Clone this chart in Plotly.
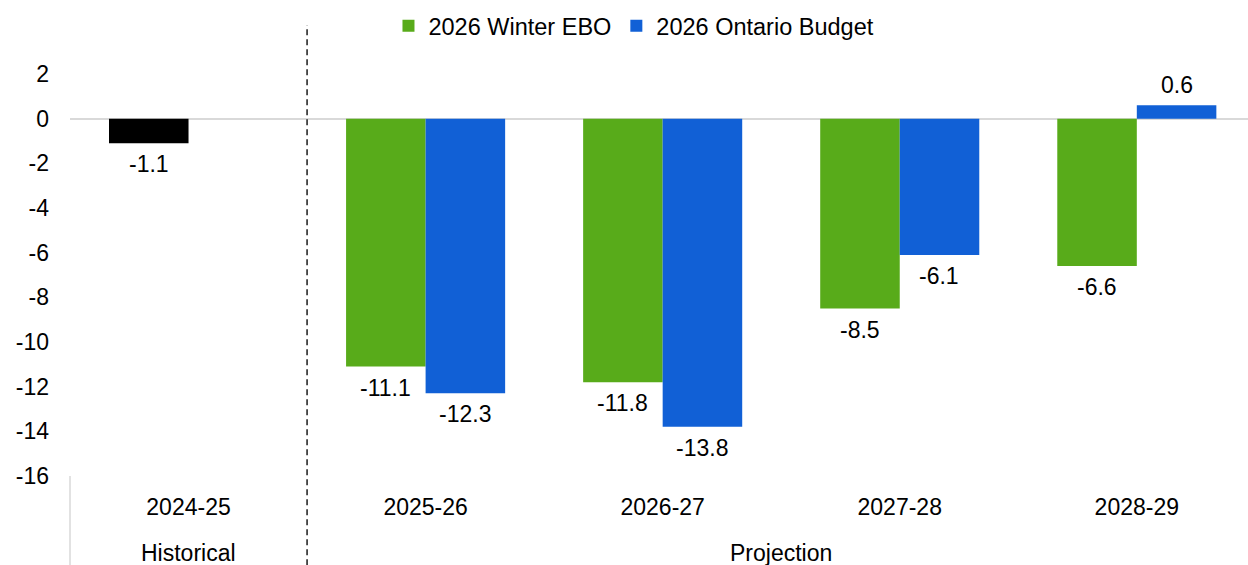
import plotly.graph_objects as go

# Fiscal years on the category axis
years = ["2024-25", "2025-26", "2026-27", "2027-28", "2028-29"]

# Budget balance, $ billions
historical_years = ["2024-25"]
historical_vals = [-1.1]

proj_years = ["2025-26", "2026-27", "2027-28", "2028-29"]
winter_ebo = [-11.1, -11.8, -8.5, -6.6]
ontario_budget = [-12.3, -13.8, -6.1, 0.6]

y_ticks = [2, 0, -2, -4, -6, -8, -10, -12, -14, -16]

FONT = "Liberation Sans, Arial, sans-serif"
GREEN = "#58AB1A"
BLUE = "#1160D6"
HALF_BAR_PX = 39.75  # half of one bar's pixel width, used to centre value labels

fig = go.Figure()

fig.add_trace(go.Bar(
    x=historical_years, y=historical_vals, name="Historical",
    marker=dict(color="#000000", line=dict(width=0)),
    offsetgroup="ebo", showlegend=False,
))
fig.add_trace(go.Bar(
    x=proj_years, y=winter_ebo, name="2026 Winter EBO",
    marker=dict(color=GREEN, line=dict(width=0)),
    offsetgroup="ebo",
))
fig.add_trace(go.Bar(
    x=proj_years, y=ontario_budget, name="2026 Ontario Budget",
    marker=dict(color=BLUE, line=dict(width=0)),
    offsetgroup="budget",
))


def value_label(xcat, val, shift):
    above = val >= 0
    fig.add_annotation(
        x=xcat, y=val, xref="x", yref="y", text=f"{val:.1f}",
        showarrow=False, xanchor="center",
        yanchor="bottom" if above else "top",
        xshift=shift, yshift=5 if above else -6,
        font=dict(family=FONT, size=23, color="#000000"),
    )


for xc, v in zip(historical_years, historical_vals):
    value_label(xc, v, -HALF_BAR_PX)
for xc, v in zip(proj_years, winter_ebo):
    value_label(xc, v, -HALF_BAR_PX)
for xc, v in zip(proj_years, ontario_budget):
    value_label(xc, v, HALF_BAR_PX)

# Gridline-free value axis with a light zero line
fig.update_yaxes(
    range=[-16, 2], tickvals=y_ticks, ticktext=[str(v) for v in y_ticks],
    showgrid=False, showline=False, ticks="",
    zeroline=True, zerolinecolor="#D9D9D9", zerolinewidth=1.5,
    tickfont=dict(family=FONT, size=23, color="#000000"),
    ticklabelstandoff=20,
)
fig.update_xaxes(
    type="category", categoryorder="array", categoryarray=years,
    range=[-0.5, 4.469], showgrid=False, showline=False, ticks="",
    zeroline=False,
    tickfont=dict(family=FONT, size=23, color="#000000"),
    ticklabelstandoff=15,
)

# Divider between historical and projected years
fig.add_shape(type="line", xref="x", yref="paper", x0=0.5, x1=0.5,
              y0=-0.222, y1=1.122,
              line=dict(color="#1a1a1a", width=1.5, dash="6px,4px"))
# Left edge of the category axis below the plot
fig.add_shape(type="line", xref="paper", yref="paper", x0=0, x1=0,
              y0=-0.222, y1=0, line=dict(color="#D9D9D9", width=1.5))

for label, xpos in [("Historical", 0), ("Projection", 2.5)]:
    fig.add_annotation(text=label, x=xpos, xref="x", y=-0.1905, yref="paper",
                       xanchor="center", yanchor="middle", showarrow=False,
                       font=dict(family=FONT, size=23, color="#000000"))

fig.update_layout(
    width=1248, height=565,
    margin=dict(l=70, r=0, t=74, b=89),
    paper_bgcolor="white", plot_bgcolor="white",
    barmode="group", bargap=0.329, bargroupgap=0,
    font=dict(family=FONT, size=23, color="#000000"),
    legend=dict(orientation="h", xref="container", yref="container",
                x=0.508, xanchor="center", y=0.993, yanchor="top",
                font=dict(family=FONT, size=23.5, color="#000000"),
                bgcolor="rgba(0,0,0,0)", itemwidth=30),
)

fig.write_html("out.html")
